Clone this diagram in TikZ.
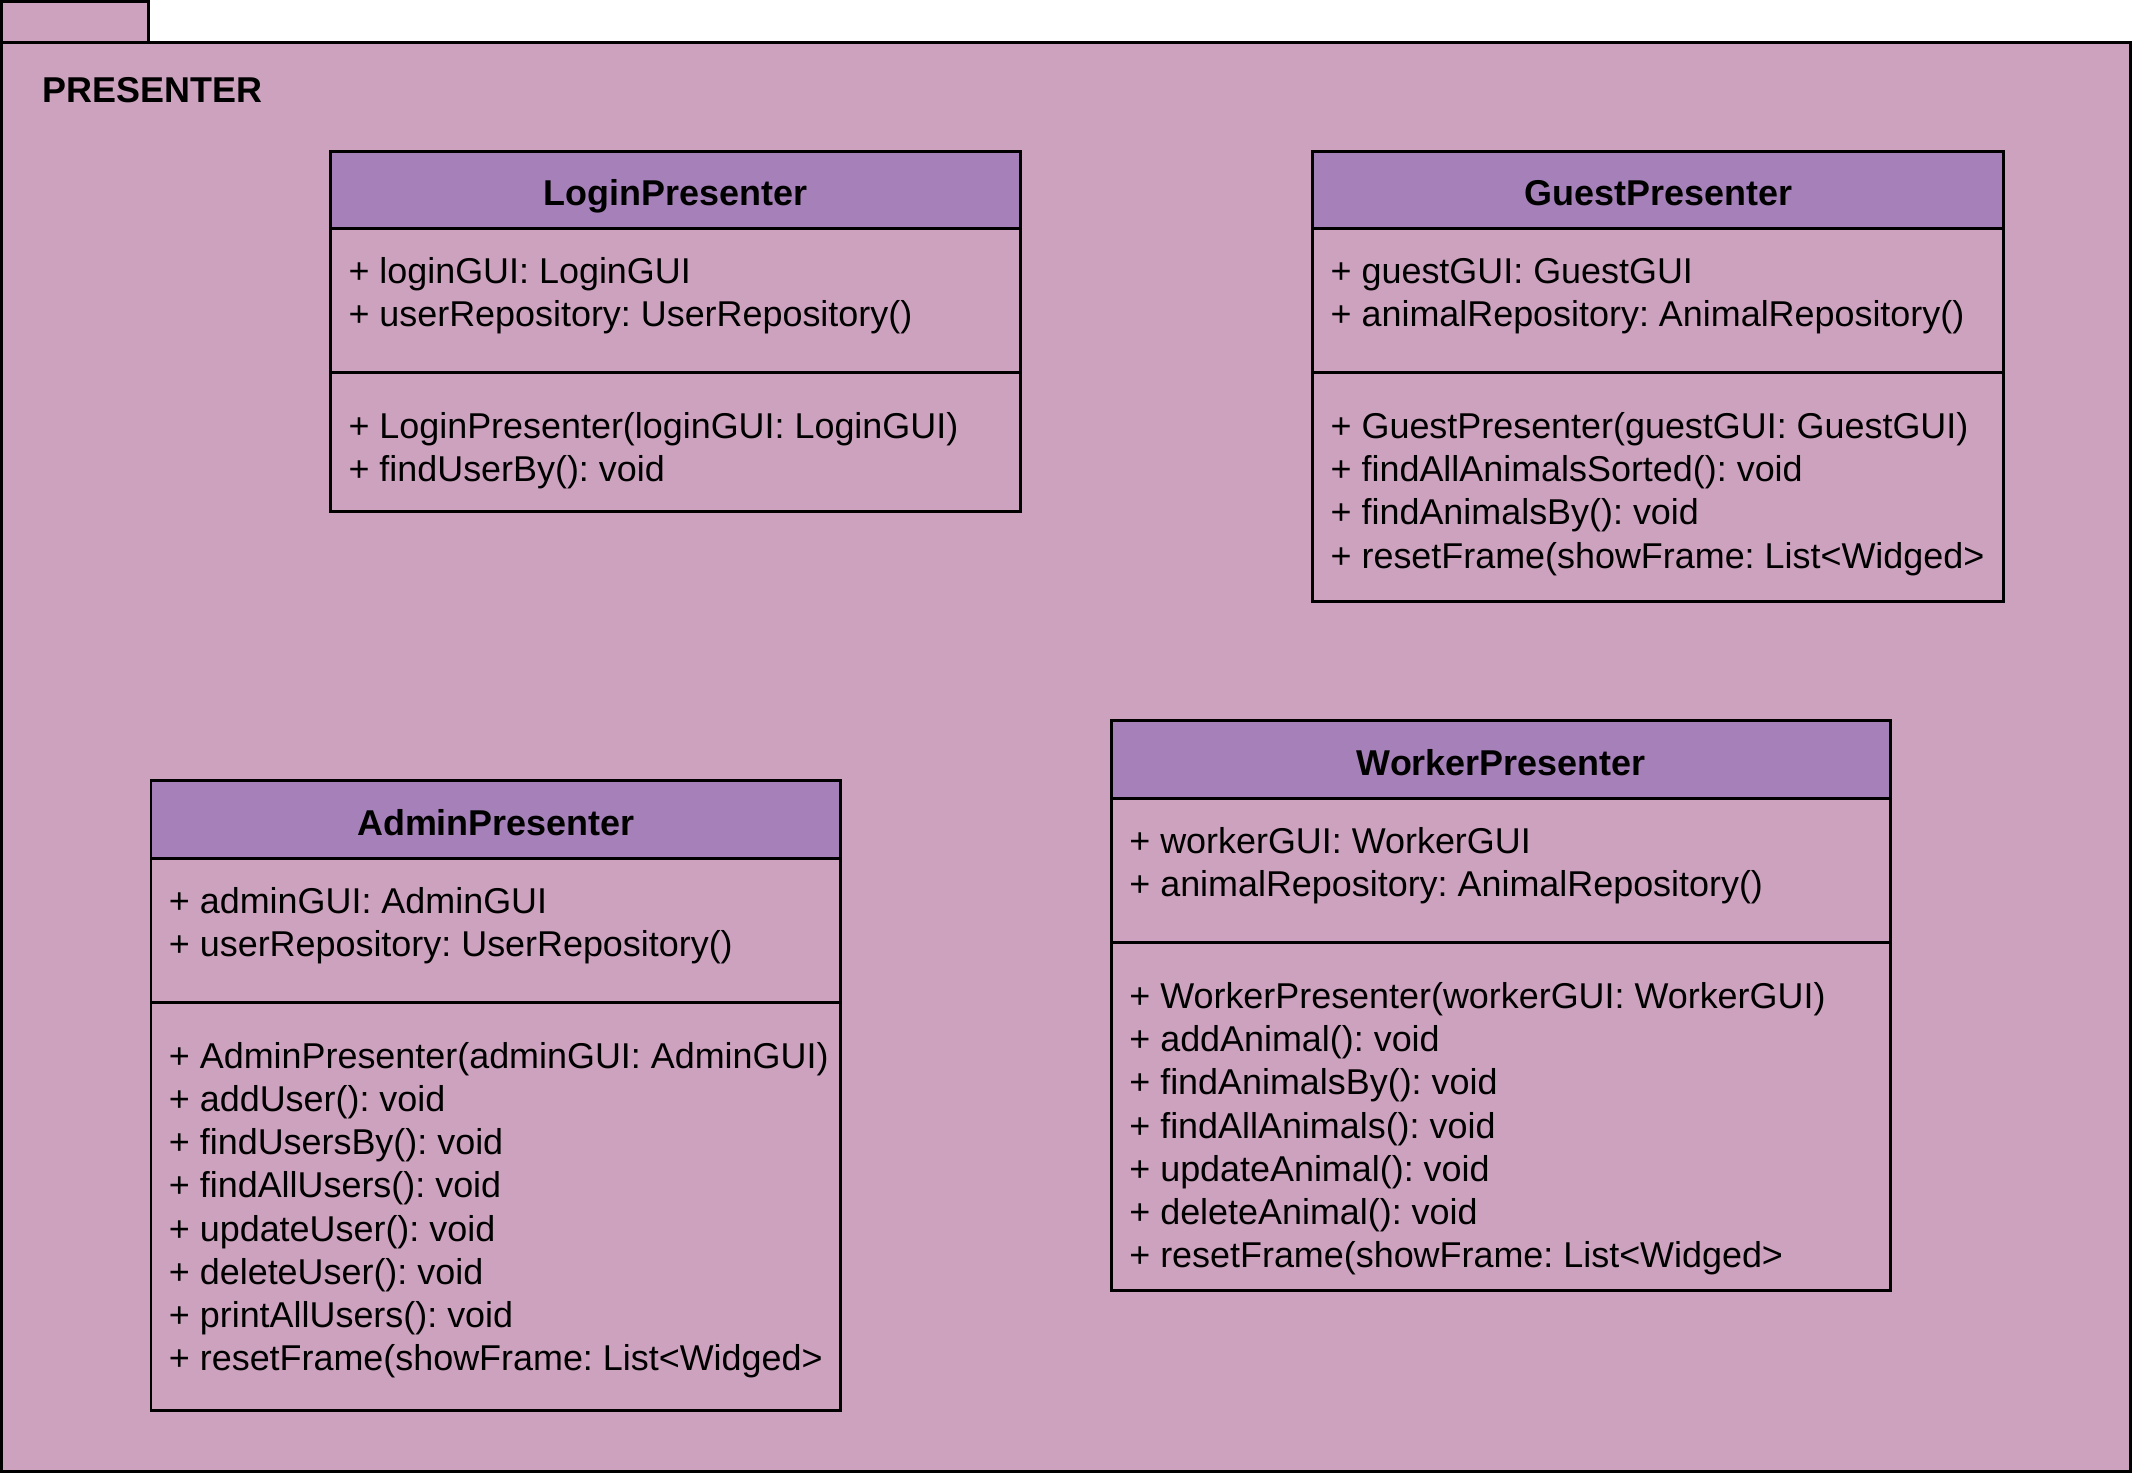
\documentclass[tikz,border=0pt]{standalone}
\usepackage{fontspec}
\setmainfont{Liberation Sans}
\usetikzlibrary{positioning}
\frenchspacing

\definecolor{pkgfill}{HTML}{CDA2BE}
\definecolor{headfill}{HTML}{A680B8}

\tikzset{
	head/.style={draw, fill=headfill, line width=2.2pt, inner sep=0, outer sep=0,
		anchor=north west, minimum height=57, text height=23, text depth=0,
		font=\fontsize{26.4}{31.7}\selectfont\bfseries},
	part/.style={draw, line width=2.2pt, inner sep=0, outer sep=0, anchor=north west},
	member/.style={anchor=base west, inner sep=0, font=\fontsize{26.4}{31.7}\selectfont},
}

\begin{document}
\begin{tikzpicture}[x=1pt, y=-1pt]
	\useasboundingbox (0,0) rectangle (1568,1085);
	% package
	\draw[fill=pkgfill, line width=2.2pt] (1,1) rectangle (109,31);
	\draw[fill=pkgfill, line width=2.2pt] (1,31) rectangle (1566,1082);
	\node[member, font=\fontsize{26.4}{31.7}\selectfont\bfseries] (pkg) at (31,75.5) {PRESENTER};

	% LoginPresenter
	\node[head, minimum width=507] (login) at (243,111) {LoginPresenter};
	\node[part, minimum width=507, minimum height=106] (login-attr) at (login.south west) {};
	\node[part, minimum width=507, minimum height=102] (login-meth) at (login-attr.south west) {};
	\foreach \m [count=\i] in {{+ loginGUI: LoginGUI}, {+ userRepository: UserRepository()}}
		\node[member] (login-a\i) at ([shift={(13,{40.5+31.7*(\i-1)})}]login-attr.north west) {\m};
	\foreach \m [count=\i] in {{+ LoginPresenter(loginGUI: LoginGUI)}, {+ findUserBy(): void}}
		\node[member] (login-m\i) at ([shift={(13,{48.5+31.7*(\i-1)})}]login-meth.north west) {\m};

	% GuestPresenter
	\node[head, minimum width=508] (guest) at (965,111) {GuestPresenter};
	\node[part, minimum width=508, minimum height=106] (guest-attr) at (guest.south west) {};
	\node[part, minimum width=508, minimum height=168] (guest-meth) at (guest-attr.south west) {};
	\foreach \m [count=\i] in {{+ guestGUI: GuestGUI}, {+ animalRepository: AnimalRepository()}}
		\node[member] (guest-a\i) at ([shift={(13,{40.5+31.7*(\i-1)})}]guest-attr.north west) {\m};
	\foreach \m [count=\i] in {{+ GuestPresenter(guestGUI: GuestGUI)}, {+ findAllAnimalsSorted(): void},
		{+ findAnimalsBy(): void}, {+ resetFrame(showFrame: List<Widged>}}
		\node[member] (guest-m\i) at ([shift={(13,{48.5+31.7*(\i-1)})}]guest-meth.north west) {\m};

	% AdminPresenter
	\node[head, minimum width=507] (admin) at (111,574) {AdminPresenter};
	\node[part, minimum width=507, minimum height=106] (admin-attr) at (admin.south west) {};
	\node[part, minimum width=507, minimum height=300] (admin-meth) at (admin-attr.south west) {};
	\foreach \m [count=\i] in {{+ adminGUI: AdminGUI}, {+ userRepository: UserRepository()}}
		\node[member] (admin-a\i) at ([shift={(13,{40.5+31.7*(\i-1)})}]admin-attr.north west) {\m};
	\foreach \m [count=\i] in {{+ AdminPresenter(adminGUI: AdminGUI)}, {+ addUser(): void},
		{+ findUsersBy(): void}, {+ findAllUsers(): void}, {+ updateUser(): void},
		{+ deleteUser(): void}, {+ printAllUsers(): void}, {+ resetFrame(showFrame: List<Widged>}}
		\node[member] (admin-m\i) at ([shift={(13,{48.5+31.7*(\i-1)})}]admin-meth.north west) {\m};

	% WorkerPresenter
	\node[head, minimum width=573] (worker) at (817,530) {WorkerPresenter};
	\node[part, minimum width=573, minimum height=106] (worker-attr) at (worker.south west) {};
	\node[part, minimum width=573, minimum height=256] (worker-meth) at (worker-attr.south west) {};
	\foreach \m [count=\i] in {{+ workerGUI: WorkerGUI}, {+ animalRepository: AnimalRepository()}}
		\node[member] (worker-a\i) at ([shift={(13,{40.5+31.7*(\i-1)})}]worker-attr.north west) {\m};
	\foreach \m [count=\i] in {{+ WorkerPresenter(workerGUI: WorkerGUI)}, {+ addAnimal(): void},
		{+ findAnimalsBy(): void}, {+ findAllAnimals(): void}, {+ updateAnimal(): void},
		{+ deleteAnimal(): void}, {+ resetFrame(showFrame: List<Widged>}}
		\node[member] (worker-m\i) at ([shift={(13,{48.5+31.7*(\i-1)})}]worker-meth.north west) {\m};
\end{tikzpicture}
\end{document}
